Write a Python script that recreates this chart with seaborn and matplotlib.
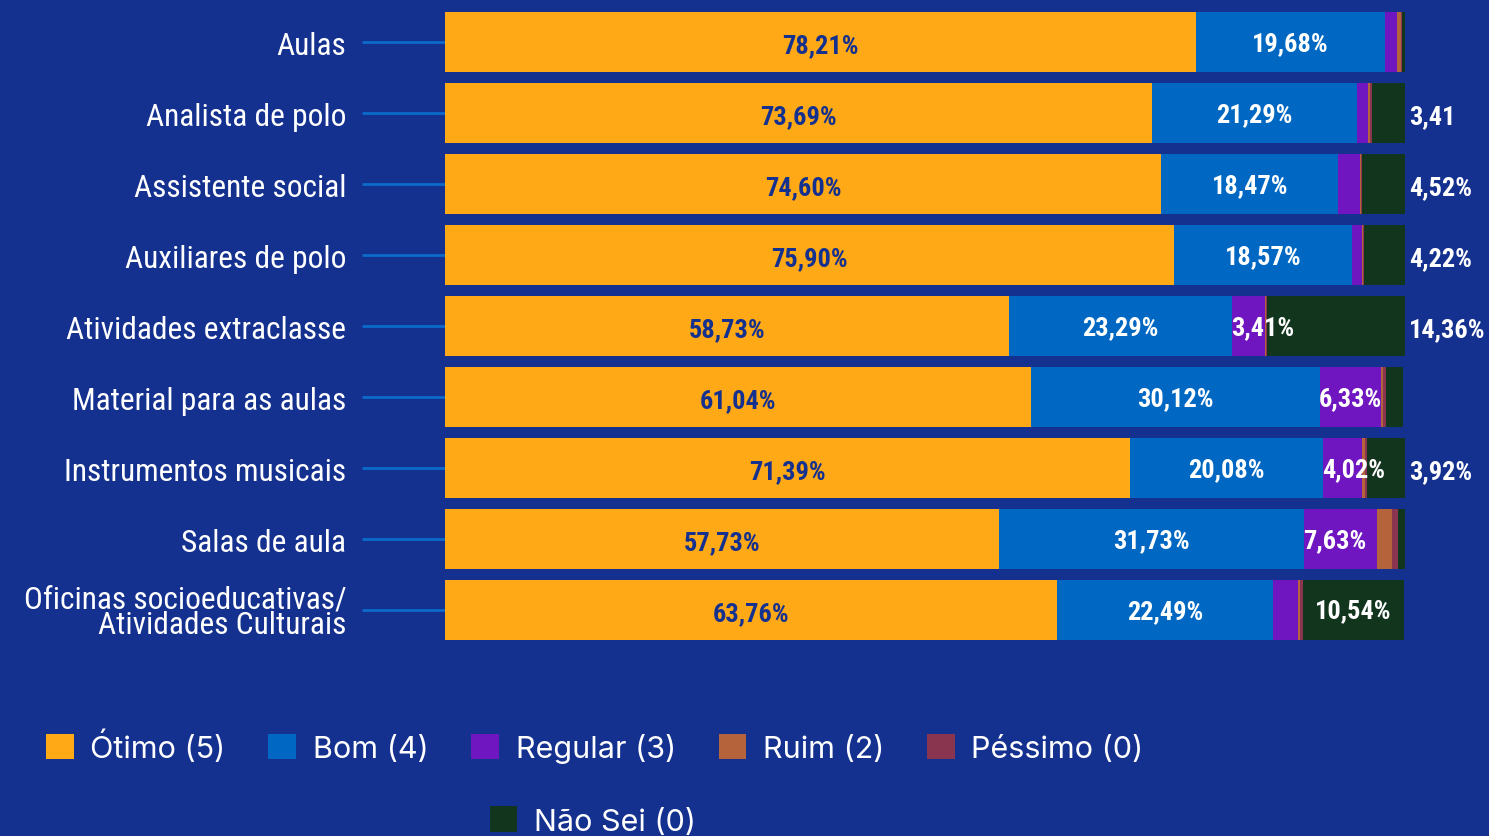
#!/usr/bin/env python3
# -*- coding: utf-8 -*-

"""
Avaliação dos serviços do projeto: barras horizontais empilhadas (%)
"""

import numpy as np
import matplotlib
matplotlib.use('Agg')
import matplotlib.pyplot as plt
import seaborn as sns
from matplotlib import font_manager as fm
from matplotlib.patches import Patch

# Dados
categorias = ['Aulas', 'Analista de polo', 'Assistente social', 'Auxiliares de polo',
              'Atividades extraclasse', 'Material para as aulas', 'Instrumentos musicais',
              'Salas de aula', 'Oficinas socioeducativas/\nAtividades Culturais']
otimo = [78.21, 73.69, 74.60, 75.90, 58.73, 61.04, 71.39, 57.73, 63.76]
bom = [19.68, 21.29, 18.47, 18.57, 23.29, 30.12, 20.08, 31.73, 22.49]
regular = [1.30, 1.20, 2.20, 1.10, 3.41, 6.33, 4.02, 7.63, 2.60]
ruim = [0.40, 0.20, 0.10, 0.10, 0.10, 0.25, 0.30, 1.60, 0.20]
pessimo = [0.10, 0.20, 0.10, 0.10, 0.11, 0.30, 0.30, 0.60, 0.30]
nao_sei = [0.30, 3.41, 4.52, 4.22, 14.36, 1.80, 3.92, 0.70, 10.54]
series = ['Ótimo (5)', 'Bom (4)', 'Regular (3)', 'Ruim (2)', 'Péssimo (0)', 'Não Sei (0)']

# Estilo
FUNDO = '#15318F'
cores = ['#FEA915', '#0068C2', '#6F16C0', '#B5633A', '#8A3550', '#12351E']

sns.set_style('white')
plt.rcParams['font.family'] = ['DejaVu Sans']


def eh_negrito(f):
    w = f.weight
    if isinstance(w, (int, float)):
        return w >= 600
    return 'bold' in str(w).lower() or 'heavy' in str(w).lower()


def fonte_condensada(negrito):
    """Procura uma fonte estreita instalada; senão usa DejaVu Sans."""
    cands = []
    for f in fm.fontManager.ttflist:
        estreita = (str(f.stretch) not in ('normal', '500')
                    or 'Narrow' in f.name or 'Condensed' in f.name)
        if estreita and eh_negrito(f) == negrito and str(f.style) == 'normal':
            cands.append(f)
    ordem = ['Roboto Condensed', 'Roboto', 'Liberation Sans Narrow', 'Open Sans',
             'Noto Sans', 'DejaVu Sans']
    cands.sort(key=lambda f: ordem.index(f.name) if f.name in ordem else len(ordem))
    if cands:
        return fm.FontProperties(fname=cands[0].fname)
    return fm.FontProperties(family='DejaVu Sans', weight='bold' if negrito else 'normal')


def rotulo(v, pct=True):
    txt = f"{v:.2f}".replace('.', ',')
    return txt + '%' if pct else txt


def ajustar_largura(fig, textos, ref, largura_px):
    """Ajusta o tamanho da fonte para que o texto de referência tenha a largura dada."""
    fig.canvas.draw()
    r = fig.canvas.get_renderer()
    atual = ref.get_window_extent(r).width
    fator = largura_px / atual
    for t in textos:
        t.set_fontsize(t.get_fontsize() * fator)


def main():
    fig = plt.figure(figsize=(14.89, 8.37), dpi=100, facecolor=FUNDO)
    ax = fig.add_axes([0.2989, 0.2276, 0.6447, 0.7634])
    ax.set_facecolor(FUNDO)

    fp_normal = fonte_condensada(False)
    fp_negrito = fonte_condensada(True)

    valores = np.array([otimo, bom, regular, ruim, pessimo, nao_sei])
    acum = np.cumsum(valores, axis=0)

    # barras sobrepostas do total acumulado (maior primeiro)
    for i in reversed(range(len(series))):
        sns.barplot(x=acum[i], y=categorias, color=cores[i], orient='h',
                    width=0.845, saturation=1, linewidth=0, edgecolor='none', ax=ax)

    ax.set_xlim(0, 100)
    ax.set_ylim(len(categorias) - 0.5, -0.5)
    ax.set_xlabel('')
    ax.set_ylabel('')
    ax.set_xticks([])
    for s in ax.spines.values():
        s.set_visible(False)
    ax.tick_params(axis='y', length=60, width=2, color='#0A6BCB', pad=11,
                   labelcolor='white', left=True)
    rotulos_y = ax.get_yticklabels()
    for lbl in rotulos_y:
        lbl.set_fontproperties(fp_normal)
        lbl.set_fontsize(28)
        lbl.set_linespacing(0.85)

    textos = []
    opc = dict(fontproperties=fp_negrito, va='center')

    def escrever(x, y, s, ha, cor):
        t = ax.text(x, y, s, ha=ha, color=cor, clip_on=False, **opc)
        t.set_fontsize(20)
        textos.append(t)
        return t

    for j in range(len(categorias)):
        # Ótimo e Bom: centro do segmento
        escrever(otimo[j] / 2, j + 0.04, rotulo(otimo[j]), 'center', FUNDO)
        escrever(acum[0][j] + bom[j] / 2, j + 0.02, rotulo(bom[j]), 'center', 'white')
        # Regular: só quando o segmento é visível, a partir do início do segmento
        if regular[j] >= 3:
            escrever(acum[1][j] - 0.1, j + 0.02, rotulo(regular[j]), 'left', 'white')
        # Não sei: dentro (Oficinas) ou fora da barra
        if nao_sei[j] >= 3:
            if j == len(categorias) - 1:
                escrever(acum[4][j] + nao_sei[j] / 2, j, rotulo(nao_sei[j]), 'center', 'white')
            else:
                escrever(acum[5][j] + 0.45, j + 0.04, rotulo(nao_sei[j], pct=(j != 1)),
                         'left', 'white')

    # larguras medidas na referência
    ajustar_largura(fig, rotulos_y, rotulos_y[4], 279)
    ajustar_largura(fig, textos, textos[0], 77)

    handles = [Patch(facecolor=c, edgecolor='none') for c in cores]
    leg_opc = dict(frameon=False, handlelength=0.9, handleheight=0.9,
                   handletextpad=0.55, columnspacing=1.4, borderpad=0, borderaxespad=0,
                   labelcolor='white', prop={'family': ['Inter', 'DejaVu Sans'], 'size': 22})
    fig.legend(handles[:5], series[:5], loc='center left', ncol=5,
               bbox_to_anchor=(0.031, 0.107), **leg_opc)
    fig.legend(handles[5:], series[5:], loc='center left', ncol=1,
               bbox_to_anchor=(0.329, 0.018), **leg_opc)

    fig.savefig('out.png', dpi=100, facecolor=FUNDO)
    plt.close(fig)


if __name__ == "__main__":
    main()
